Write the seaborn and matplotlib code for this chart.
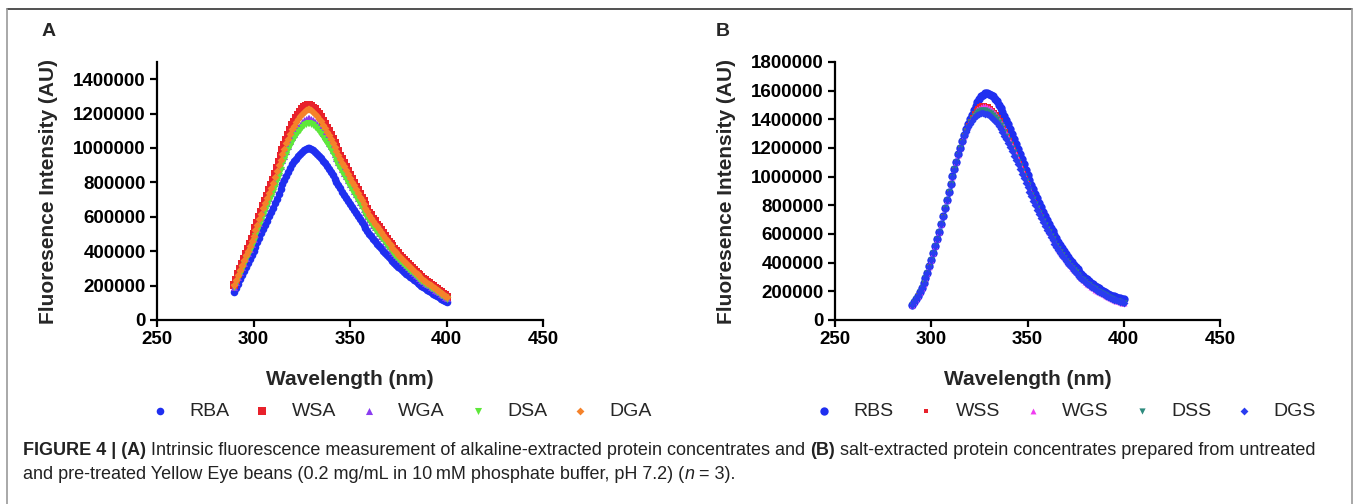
import numpy as np
import pandas as pd
import matplotlib
matplotlib.use('Agg')
import matplotlib.pyplot as plt
import seaborn as sns

# wavelength grid of the scans (nm)
wavelength = list(range(290, 401))

# panel A : alkaline extracted (values in thousands AU)
RBA = [165,188,212,236,260,284,307,330,353,376,
       400,426,452,478,504,530,554,578,602,626,
       650,678,706,734,762,790,814,838,861,884,
       905,922,938,953,967,979,989,996,1000,999,
       995,988,979,968,956,943,927,911,894,877,
       860,841,822,803,784,765,747,729,711,693,
       675,657,639,621,603,585,568,551,534,517,
       500,486,472,458,444,430,417,404,391,378,
       365,354,343,332,321,310,300,290,280,270,
       260,251,242,233,224,216,208,200,192,185,
       176,168,160,152,145,138,131,124,117,110,103]
WSA = [206,235,265,295,325,355,384,413,441,470,
       500,533,565,598,630,663,693,723,753,783,
       813,848,883,918,953,988,1018,1048,1076,1105,
       1131,1153,1173,1191,1209,1224,1236,1245,1250,1249,
       1244,1235,1224,1210,1195,1179,1159,1139,1118,1096,
       1075,1051,1028,1004,980,956,934,911,889,866,
       844,821,799,776,754,731,710,689,668,646,
       625,608,590,573,555,538,521,505,489,473,
       456,443,429,415,401,388,375,363,350,338,
       325,314,303,291,280,270,260,250,240,231,
       223,214,205,196,188,179,170,161,153,144,135]
WGA = [194,221,249,277,306,334,361,388,415,442,
       470,501,531,562,592,623,651,679,707,736,
       764,797,830,862,895,928,956,985,1012,1039,
       1063,1083,1102,1120,1136,1150,1162,1170,1175,1174,
       1169,1161,1150,1137,1123,1108,1089,1070,1050,1030,
       1011,988,966,944,921,899,878,857,835,814,
       793,772,751,730,709,687,667,647,627,607,
       588,571,555,538,522,505,490,475,459,444,
       429,416,403,390,377,364,353,341,329,317,
       306,295,284,274,263,254,244,235,226,217,
       209,201,193,184,176,168,160,152,143,135,127]
DSA = [189,215,243,270,298,325,352,378,404,431,
       458,488,518,547,577,607,634,662,689,717,
       744,776,808,840,872,905,932,960,986,1012,
       1036,1056,1074,1091,1107,1121,1132,1140,1145,1144,
       1139,1131,1121,1108,1095,1080,1061,1043,1024,1004,
       985,963,941,919,898,876,855,835,814,793,
       773,752,732,711,690,670,650,631,611,592,
       573,556,540,524,508,492,477,463,448,433,
       418,405,393,380,368,355,344,332,321,309,
       298,287,277,267,256,247,238,229,220,212,
       204,196,188,180,172,164,156,148,140,132,124]
DGA = [202,230,260,289,319,348,376,404,432,461,
       490,522,554,586,617,649,679,708,737,767,
       796,831,865,899,933,968,997,1027,1055,1083,
       1109,1129,1149,1167,1185,1199,1212,1220,1225,1224,
       1219,1210,1199,1186,1171,1155,1136,1116,1095,1074,
       1054,1030,1007,984,960,937,915,893,871,849,
       827,805,783,761,739,717,696,675,654,633,
       613,595,578,561,544,527,511,495,479,463,
       447,434,420,407,393,380,368,355,343,331,
       319,307,296,285,274,265,255,245,235,227,
       218,209,201,192,184,175,167,158,149,141,132]

# panel B : salt extracted (values in thousands AU)
RBS = [105,125,145,170,195,225,255,292,330,374,
       418,466,515,565,615,670,725,782,840,895,
       950,1003,1055,1105,1155,1203,1250,1290,1330,1365,
       1400,1433,1465,1493,1520,1540,1560,1573,1585,1584,
       1580,1571,1560,1543,1525,1503,1480,1453,1425,1395,
       1365,1333,1300,1265,1230,1195,1160,1123,1085,1048,
       1010,978,945,913,880,848,815,785,755,728,
       700,673,645,620,595,570,545,523,500,479,
       458,439,420,403,385,369,353,338,323,310,
       296,284,272,261,250,240,230,221,212,204,
       196,189,182,176,170,165,160,155,151,147,144]
WSS = [107,127,147,171,196,226,256,293,331,375,
       419,467,516,566,616,670,725,781,838,893,
       948,1001,1053,1103,1152,1200,1247,1288,1325,1358,
       1390,1418,1445,1463,1480,1490,1498,1500,1500,1496,
       1490,1480,1468,1452,1435,1415,1393,1369,1343,1316,
       1287,1257,1226,1193,1160,1126,1092,1058,1023,989,
       955,921,888,855,822,791,760,730,700,672,
       645,619,594,570,546,523,500,479,458,439,
       420,402,384,367,351,336,321,307,293,280,
       268,256,245,234,224,214,205,196,188,180,
       173,166,160,154,148,142,137,132,127,122,118]
WGS = [103,123,144,168,194,224,254,291,329,373,
       417,465,514,564,614,669,724,780,837,892,
       947,1000,1052,1102,1151,1199,1246,1287,1322,1354,
       1385,1412,1437,1456,1472,1481,1488,1490,1490,1486,
       1480,1470,1458,1442,1425,1405,1384,1360,1335,1308,
       1280,1250,1220,1188,1155,1122,1088,1054,1020,986,
       952,918,885,852,820,789,758,728,698,670,
       643,617,592,568,544,521,498,477,456,437,
       418,400,382,365,349,334,319,305,291,278,
       266,254,243,232,222,212,203,194,186,178,
       171,164,158,152,146,140,135,130,125,120,116]
DSS = [106,126,146,170,195,225,255,291,329,373,
       417,465,514,563,613,668,722,779,836,891,
       946,999,1051,1101,1150,1198,1245,1286,1318,1349,
       1378,1402,1424,1439,1452,1460,1465,1466,1465,1460,
       1454,1444,1432,1417,1400,1381,1360,1337,1312,1286,
       1259,1230,1200,1169,1137,1105,1072,1039,1005,972,
       939,906,874,842,810,779,749,719,690,663,
       636,611,586,562,538,515,493,472,452,433,
       414,396,379,363,347,332,317,303,289,277,
       265,254,243,232,222,213,204,195,187,179,
       172,165,159,153,147,141,136,131,126,121,117]
DGS = [104,124,145,169,194,224,254,290,328,372,
       416,464,513,562,612,667,721,777,834,889,
       944,997,1049,1099,1148,1196,1243,1283,1315,1344,
       1370,1391,1410,1422,1432,1438,1442,1442,1440,1435,
       1428,1417,1405,1390,1373,1354,1333,1310,1286,1260,
       1234,1206,1177,1147,1116,1085,1053,1021,989,957,
       925,893,862,831,800,770,740,711,683,656,
       630,605,580,556,533,511,489,469,449,430,
       411,394,377,361,345,330,315,301,288,276,
       264,253,242,232,222,213,204,196,188,181,
       174,167,161,155,149,143,138,133,128,123,119]

sns.set_style('ticks')
plt.rcParams['font.family'] = ['Liberation Sans', 'DejaVu Sans']

fig = plt.figure(figsize=(13.6, 5.04), dpi=100)

# name, values, marker, colour, size
series_a = [('RBA', RBA, 'o', '#1f2ff0', 30),
            ('WSA', WSA, 's', '#e8212b', 30),
            ('WGA', WGA, '^', '#8a3cf0', 26),
            ('DSA', DSA, 'v', '#5ee83a', 26),
            ('DGA', DGA, 'D', '#f5822a', 16)]
series_b = [('RBS', RBS, 'o', '#1f2ff0', 36),
            ('WSS', WSS, 's', '#e8212b', 8),
            ('WGS', WGS, '^', '#f03cf0', 18),
            ('DSS', DSS, 'v', '#2e8b7e', 20),
            ('DGS', DGS, 'D', '#2a3cf0', 16)]

def panel(rect, series, ymax, ytop, letter, letter_x, leg_x):
    ax = fig.add_axes(rect)
    for name, vals, mk, col, sz in series:
        df = pd.DataFrame({'wl': wavelength, 'fi': np.array(vals) * 1000})
        sns.scatterplot(data=df, x='wl', y='fi', ax=ax, marker=mk, color=col,
                        s=sz, linewidth=0, label=name, zorder=3)
    ax.set_xlim(250, 450)
    ax.set_ylim(0, ymax)
    ax.set_xticks([250, 300, 350, 400, 450])
    ax.set_yticks(np.arange(0, ytop + 1, 200000))
    ax.ticklabel_format(axis='y', style='plain')
    for sp in ['top', 'right']:
        ax.spines[sp].set_visible(False)
    for sp in ['left', 'bottom']:
        ax.spines[sp].set_linewidth(1.6)
        ax.spines[sp].set_color('black')
    ax.tick_params(width=1.6, length=5, pad=3, labelsize=13.5, colors='black')
    for lb in ax.get_xticklabels() + ax.get_yticklabels():
        lb.set_fontweight('bold')
    ax.set_xlabel('Wavelength (nm)', fontsize=15, fontweight='bold', labelpad=16)
    ax.set_ylabel('Fluoresence Intensity (AU)', fontsize=15, fontweight='bold', labelpad=11)
    handles, labels = ax.get_legend_handles_labels()
    ax.get_legend().remove()
    fig.legend(handles, labels, loc='center', bbox_to_anchor=(leg_x, 1 - 411 / 504),
               ncol=5, frameon=False, fontsize=14, handlelength=1.0,
               handletextpad=1.0, columnspacing=1.2, markerscale=1.0)
    fig.text(letter_x, 1 - 32 / 504, letter, fontsize=14, fontweight='bold',
             ha='left', va='center')
    return ax

ax_a = panel([157 / 1360, 1 - 320 / 504, 386 / 1360, 258 / 504], series_a,
             1500000, 1400000, 'A', 42 / 1360, 401 / 1360)
ax_b = panel([835 / 1360, 1 - 320 / 504, 385 / 1360, 258 / 504], series_b,
             1800000, 1800000, 'B', 716 / 1360, 1065 / 1360)

# frame around the figure
frame = fig.add_axes([0, 0, 1, 1], zorder=-1)
frame.set_xlim(0, 1360)
frame.set_ylim(504, 0)
frame.axis('off')
frame.plot([7, 1352], [9, 9], color='#333333', lw=1.2)
frame.plot([7, 7], [9, 504], color='#999999', lw=1.2)
frame.plot([1352, 1352], [9, 504], color='#999999', lw=1.2)

# caption with mixed bold / italic pieces
cap = dict(fontsize=13, color='#222222')
line1 = [('FIGURE 4 | (A)', 'bold', 'normal'),
         (' Intrinsic fluorescence measurement of alkaline-extracted protein concentrates and ', 'normal', 'normal'),
         ('(B)', 'bold', 'normal'),
         (' salt-extracted protein concentrates prepared from untreated', 'normal', 'normal')]
line2 = [('and pre-treated Yellow Eye beans (0.2 mg/mL in 10\u2009mM phosphate buffer, pH 7.2) (', 'normal', 'normal'),
         ('n', 'normal', 'italic'),
         (' = 3).', 'normal', 'normal')]
for y0, pieces in [(459, line1), (483, line2)]:
    prev = None
    for txt, wt, st in pieces:
        if prev is None:
            prev = frame.text(23, y0, txt, fontweight=wt, fontstyle=st,
                              ha='left', va='bottom', **cap)
        else:
            prev = frame.annotate(txt, xy=(1, 0), xycoords=prev, fontweight=wt,
                                  fontstyle=st, ha='left', va='bottom', **cap)

fig.savefig('out.png', dpi=100)
